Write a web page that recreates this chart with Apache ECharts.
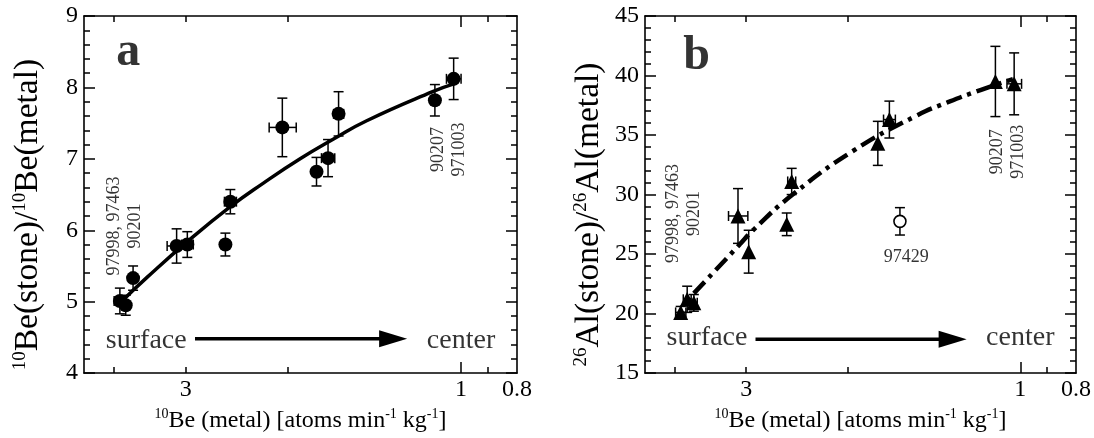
<!DOCTYPE html>
<html><head><meta charset="utf-8">
<script src="https://cdn.jsdelivr.net/npm/echarts@6/dist/echarts.min.js"></script>
<style>html,body{margin:0;padding:0;background:#fff}#c{width:1094px;height:438px}</style>
</head><body><div id="c"></div>
<script>
// ---------- data ----------
const xRange = [0.8, 4.5];
const xTickMinor = [4, 3, 2, 0.9];
const xTickMajor = [1];
const xTickLabels = [3, 1, 0.8];
const aYRange = [4, 9];
const bYRange = [15, 45];

// panel a: 10Be ratio
const aX    = [3.90, 3.81, 3.70, 3.11, 2.98, 2.56, 2.51, 2.04, 1.78, 1.70, 1.63, 1.11, 1.03];
const aY    = [5.01, 4.95, 5.33, 5.78, 5.80, 5.80, 6.40, 7.44, 6.82, 7.01, 7.63, 7.82, 8.12];
const aYerr = [0.18, 0.14, 0.17, 0.24, 0.18, 0.16, 0.17, 0.41, 0.20, 0.26, 0.31, 0.22, 0.29];
const aXerr = [0.09, 0, 0, 0.12, 0.07, 0, 0.06, 0.11, 0, 0.045, 0.033, 0, 0.03];
const aCurveX = [3.89, 3.50, 2.99, 2.51, 2.20, 1.90, 1.66, 1.46, 1.12, 1.02];
const aCurveY = [4.99, 5.34, 5.83, 6.33, 6.66, 7.00, 7.28, 7.53, 7.94, 8.06];

// panel b: 26Al ratio
const bX    = [3.90, 3.80, 3.70, 3.10, 2.97, 2.55, 2.50, 1.77, 1.69, 1.105, 1.025];
const bY    = [20.1, 21.2, 20.9, 28.2, 25.2, 27.5, 31.1, 34.3, 36.3, 39.5, 39.3];
const bYerr = [0.5, 1.1, 0.7, 2.3, 1.8, 0.95, 1.1, 1.85, 1.55, 2.95, 2.6];
const bXerr = [0.08, 0.06, 0.05, 0.12, 0, 0, 0.04, 0, 0.04, 0, 0.03];
const bOpenX = [1.62];
const bOpenY = [27.75];
const bOpenYerr = [1.15];
const bCurveX = [3.70, 3.08, 2.92, 2.49, 1.95, 1.52, 1.33, 1.17, 1.03];
const bCurveY = [21.7, 25.8, 27.0, 30.0, 33.7, 36.6, 37.8, 38.8, 39.7];

// annotations
const aLabelText = ['a', 'surface', 'center', '97998, 97463\n90201', '90207\n971003'];
const aLabelX = [3.77, 3.51, 1.0, 3.83, 1.049];
const aLabelY = [8.49, 4.46, 4.46, 6.06, 7.13];
const bLabelText = ['b', 'surface', 'center', '97998, 97463\n90201', '90207\n971003', '97429'];
const bLabelX = [3.66, 3.51, 1.0, 3.85, 1.053, 1.58];
const bLabelY = [41.6, 17.95, 17.95, 28.4, 33.59, 24.7];
const arrowX = [2.89, 1.24];
const aArrowY = 4.48;
const bArrowY = 17.85;

// ---------- helpers ----------
const L = v => Math.log10(v);
const FONT = 'Liberation Serif';
const labelKinds = ['panel', 'word', 'word', 'rot', 'rot', 'plain'];

function errData(xs, ys, xe, ye) {
  return xs.map((x, i) => [L(x), ys[i], L(x - xe[i]), L(x + xe[i]), ys[i] - ye[i], ys[i] + ye[i]]);
}
function renderErr(params, api) {
  const x = api.value(0), y = api.value(1);
  const lo = api.coord([x, api.value(4)]);
  const hi = api.coord([x, api.value(5)]);
  const xl = api.coord([api.value(2), y]);
  const xh = api.coord([api.value(3), y]);
  const st = { stroke: '#000', lineWidth: 1.5, fill: null };
  const cap = 5;
  const ch = [
    { type: 'line', shape: { x1: lo[0], y1: lo[1], x2: hi[0], y2: hi[1] }, style: st },
    { type: 'line', shape: { x1: lo[0] - cap, y1: lo[1], x2: lo[0] + cap, y2: lo[1] }, style: st },
    { type: 'line', shape: { x1: hi[0] - cap, y1: hi[1], x2: hi[0] + cap, y2: hi[1] }, style: st }
  ];
  if (Math.abs(xh[0] - xl[0]) > 0.5) {
    ch.push({ type: 'line', shape: { x1: xl[0], y1: xl[1], x2: xh[0], y2: xh[1] }, style: st });
    ch.push({ type: 'line', shape: { x1: xl[0], y1: xl[1] - cap, x2: xl[0], y2: xl[1] + cap }, style: st });
    ch.push({ type: 'line', shape: { x1: xh[0], y1: xh[1] - cap, x2: xh[0], y2: xh[1] + cap }, style: st });
  }
  return { type: 'group', children: ch };
}
function renderArrow(params, api) {
  const p0 = api.coord([api.value(0), api.value(1)]);
  const p1 = api.coord([api.value(2), api.value(1)]);
  const hl = 28, hh = 8.5;
  return { type: 'group', children: [
    { type: 'line', shape: { x1: p0[0], y1: p0[1], x2: p1[0] - hl + 2, y2: p1[1] }, style: { stroke: '#000', lineWidth: 3.5 } },
    { type: 'polygon', shape: { points: [[p1[0] - hl, p1[1] - hh], [p1[0], p1[1]], [p1[0] - hl, p1[1] + hh]] }, style: { fill: '#000' } }
  ]};
}
function labelStyle(kind) {
  const base = { show: true, position: 'inside', color: '#000', fontFamily: FONT };
  if (kind === 'panel') return Object.assign(base, { fontSize: 48, fontWeight: 'bold' });
  if (kind === 'word') return Object.assign(base, { fontSize: 28 });
  if (kind === 'rot') return Object.assign(base, { fontSize: 18, lineHeight: 21, rotate: 90, align: 'center' });
  return Object.assign(base, { fontSize: 18 });
}
function labelData(txt, xs, ys) {
  return txt.map((t, i) => ({ value: [L(xs[i]), ys[i]], label: Object.assign(labelStyle(labelKinds[i]), { formatter: t }) }));
}

const axisLineStyle = { show: true, onZero: false, lineStyle: { color: '#000', width: 1.6 } };
function xAxes(grid) {
  const common = { type: 'value', gridIndex: grid, min: L(xRange[0]), max: L(xRange[1]), inverse: true, splitLine: { show: false } };
  return [
    Object.assign({}, common, {
      position: 'bottom', axisLine: axisLineStyle,
      axisTick: { show: true, inside: true, length: 6, customValues: xTickMinor.map(L), lineStyle: { color: '#000', width: 1.5 } },
      axisLabel: { show: true, customValues: xTickLabels.map(L), margin: 5, color: '#000', fontFamily: FONT, fontSize: 24,
        formatter: v => { const r = Math.pow(10, v); return r > 0.95 ? String(Math.round(r)) : r.toFixed(1); } },
      name: '{s|10}{m|Be (metal) [atoms min}{s|-1}{m| kg}{s|-1}{m|]}', nameLocation: 'middle', nameGap: 27,
      nameTextStyle: { color: '#000', rich: { m: { fontFamily: FONT, fontSize: 24, color: '#000', verticalAlign: 'bottom', lineHeight: 26 }, s: { fontFamily: FONT, fontSize: 14, color: '#000', verticalAlign: 'top', lineHeight: 26 } } }
    }),
    Object.assign({}, common, { position: 'bottom', axisLine: { show: false, onZero: false }, axisLabel: { show: false },
      axisTick: { show: true, inside: true, length: 11, customValues: xTickMajor.map(L), lineStyle: { color: '#000', width: 1.5 } } }),
    Object.assign({}, common, { position: 'top', axisLine: axisLineStyle, axisLabel: { show: false },
      axisTick: { show: true, inside: true, length: 6, customValues: xTickMinor.map(L), lineStyle: { color: '#000', width: 1.5 } } }),
    Object.assign({}, common, { position: 'top', axisLine: { show: false, onZero: false }, axisLabel: { show: false },
      axisTick: { show: true, inside: true, length: 11, customValues: xTickMajor.map(L), lineStyle: { color: '#000', width: 1.5 } } })
  ];
}
function yAxes(grid, range, interval, nameRich) {
  const common = { type: 'value', gridIndex: grid, min: range[0], max: range[1], interval: interval,
    splitLine: { show: false }, minorSplitLine: { show: false }, axisLine: axisLineStyle,
    axisTick: { show: true, inside: true, length: 11, lineStyle: { color: '#000', width: 1.5 } },
    minorTick: { show: true, splitNumber: 5, length: 6, lineStyle: { color: '#000', width: 1.5 } } };
  return [
    Object.assign({}, common, { position: 'left',
      axisLabel: { show: true, margin: 6, color: '#000', fontFamily: FONT, fontSize: 24 },
      name: nameRich, nameLocation: 'middle', nameGap: 39,
      nameTextStyle: { color: '#000', padding: [0, 40, 0, 0], rich: { m: { fontFamily: FONT, fontSize: 33.5, color: '#000', verticalAlign: 'bottom', lineHeight: 34 }, s: { fontFamily: FONT, fontSize: 19, color: '#000', verticalAlign: 'top', lineHeight: 34 } } } }),
    Object.assign({}, common, { position: 'right', axisLabel: { show: false } })
  ];
}

const option = {
  animation: false,
  backgroundColor: '#fff',
  grid: [
    { left: 84, top: 16, width: 433, height: 361 },
    { left: 645, top: 16, width: 433, height: 361 }
  ],
  xAxis: [].concat(xAxes(0), xAxes(1)),
  yAxis: [].concat(
    yAxes(0, aYRange, 1, '{s|10}{m|Be(stone)/}{s|10}{m|Be(metal)}'),
    yAxes(1, bYRange, 5, '{s|26}{m|Al(stone)/}{s|26}{m|Al(metal)}')),
  series: [
    // panel a
    { type: 'line', xAxisIndex: 0, yAxisIndex: 0, data: aCurveX.map((x, i) => [L(x), aCurveY[i]]), smooth: true, showSymbol: false, lineStyle: { color: '#000', width: 3.5 }, z: 2 },
    { type: 'custom', xAxisIndex: 0, yAxisIndex: 0, renderItem: renderErr, data: errData(aX, aY, aXerr, aYerr), encode: { x: [0, 2, 3], y: [1, 4, 5] }, z: 3 },
    { type: 'scatter', xAxisIndex: 0, yAxisIndex: 0, data: aX.map((x, i) => [L(x), aY[i]]), symbol: 'circle', symbolSize: 14, itemStyle: { color: '#000', opacity: 1 }, z: 4 },
    { type: 'custom', xAxisIndex: 0, yAxisIndex: 0, renderItem: renderArrow, data: [[L(arrowX[0]), aArrowY, L(arrowX[1])]], encode: { x: [0, 2], y: 1 }, z: 3 },
    { type: 'scatter', xAxisIndex: 0, yAxisIndex: 0, data: labelData(aLabelText, aLabelX, aLabelY), symbolSize: 1, itemStyle: { color: 'rgba(0,0,0,0)' }, z: 5 },
    // panel b
    { type: 'line', xAxisIndex: 4, yAxisIndex: 2, data: bCurveX.map((x, i) => [L(x), bCurveY[i]]), smooth: true, showSymbol: false, lineStyle: { color: '#000', width: 4.5, type: [16, 6, 4, 6] }, z: 2 },
    { type: 'custom', xAxisIndex: 4, yAxisIndex: 2, renderItem: renderErr, data: errData(bX, bY, bXerr, bYerr), encode: { x: [0, 2, 3], y: [1, 4, 5] }, z: 3 },
    { type: 'custom', xAxisIndex: 4, yAxisIndex: 2, renderItem: renderErr, data: errData(bOpenX, bOpenY, bOpenX.map(() => 0), bOpenYerr), encode: { x: [0, 2, 3], y: [1, 4, 5] }, z: 3 },
    { type: 'scatter', xAxisIndex: 4, yAxisIndex: 2, data: bX.map((x, i) => [L(x), bY[i]]), symbol: 'triangle', symbolSize: 15, itemStyle: { color: '#000', opacity: 1 }, z: 4 },
    { type: 'scatter', xAxisIndex: 4, yAxisIndex: 2, data: bOpenX.map((x, i) => [L(x), bOpenY[i]]), symbol: 'circle', symbolSize: 12, itemStyle: { color: '#fff', borderColor: '#000', borderWidth: 1.6, opacity: 1 }, z: 4 },
    { type: 'custom', xAxisIndex: 4, yAxisIndex: 2, renderItem: renderArrow, data: [[L(arrowX[0]), bArrowY, L(arrowX[1])]], encode: { x: [0, 2], y: 1 }, z: 3 },
    { type: 'scatter', xAxisIndex: 4, yAxisIndex: 2, data: labelData(bLabelText, bLabelX, bLabelY), symbolSize: 1, itemStyle: { color: 'rgba(0,0,0,0)' }, z: 5 }
  ]
};
const chart = echarts.init(document.getElementById('c'), null, { renderer: 'canvas' });
chart.setOption(option);
</script>
</body></html>
